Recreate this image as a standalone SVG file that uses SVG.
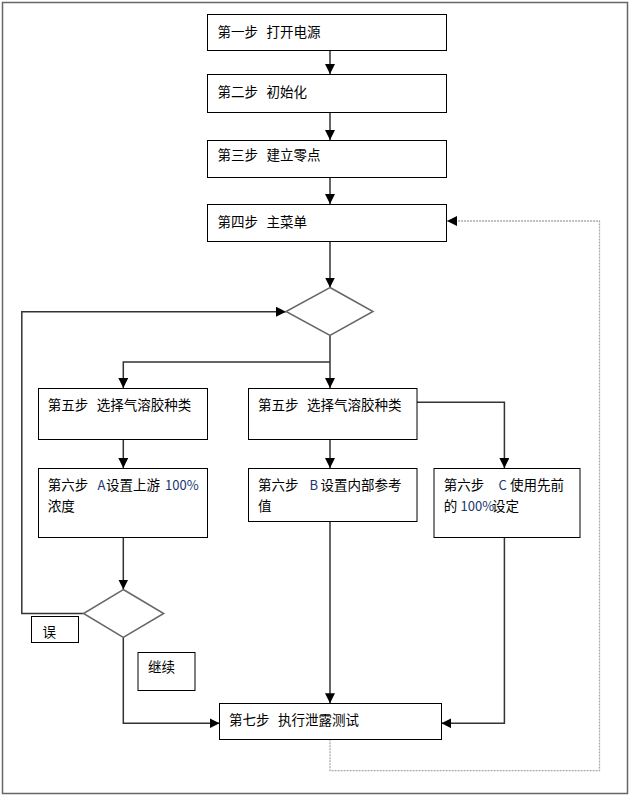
<svg xmlns="http://www.w3.org/2000/svg" width="631" height="797" viewBox="0 0 631 797">
<style>
  .box{fill:#fff;stroke:#000;stroke-width:1}
  .dia{fill:#fff;stroke:#666;stroke-width:1.5}
  .t{font-family:"Noto Sans CJK SC","Noto Sans",sans-serif;font-size:13.5px;fill:#000}
  .l{fill:#1a3570;font-size:13px}
  .c{fill:none;stroke:#333;stroke-width:1.5}
  .d{fill:none;stroke:#aaa;stroke-width:1.3;stroke-dasharray:2 1}
</style>
<defs>
  <marker id="ah" markerUnits="userSpaceOnUse" markerWidth="10" markerHeight="10" refX="10" refY="5" orient="auto" viewBox="0 0 10 10">
    <path d="M0,0 L10,5 L0,10 z" fill="#000"/>
  </marker>
</defs>
<rect x="2.5" y="2.5" width="625" height="791" fill="#fff" stroke="#666" stroke-width="1.5"/>

<g id="connectors">
  <path class="c" d="M330 51 V74" marker-end="url(#ah)"/>
  <path class="c" d="M330 113 V140" marker-end="url(#ah)"/>
  <path class="c" d="M330 178 V204" marker-end="url(#ah)"/>
  <path class="c" d="M330 242 V287.5" marker-end="url(#ah)"/>
  <path class="c" d="M330 335.5 V388" marker-end="url(#ah)"/>
  <path class="c" d="M330 362 H123.3 V388" marker-end="url(#ah)"/>
  <path class="c" d="M417 402.3 H504.4 V468" marker-end="url(#ah)"/>
  <path class="c" d="M123.3 439.3 V468" marker-end="url(#ah)"/>
  <path class="c" d="M330 439 V468" marker-end="url(#ah)"/>
  <path class="c" d="M123.3 537.3 V589.5" marker-end="url(#ah)"/>
  <path class="c" d="M123.3 637.5 V723.3 H219.5" marker-end="url(#ah)"/>
  <path class="c" d="M83.5 613.5 H21.8 V311.7 H286" marker-end="url(#ah)"/>
  <path class="c" d="M330 521.3 V703.3" marker-end="url(#ah)"/>
  <path class="c" d="M504.4 537.3 V723.3 H441.4" marker-end="url(#ah)"/>
  <path class="d" d="M330 739.3 V770.7 H599.5 V221 H447" marker-end="url(#ah)"/>
</g>

<g id="step1">
  <rect class="box" x="207.5" y="14.5" width="239" height="36"/>
  <text class="t" x="217.5" y="37">第一步<tspan x="266.5">打开电源</tspan></text>
</g>
<g id="step2">
  <rect class="box" x="207.5" y="74.5" width="239" height="38"/>
  <text class="t" x="217.5" y="96.5">第二步<tspan x="266.5">初始化</tspan></text>
</g>
<g id="step3">
  <rect class="box" x="207.5" y="140.5" width="239" height="37"/>
  <text class="t" x="217.5" y="160">第三步<tspan x="266.5">建立零点</tspan></text>
</g>
<g id="step4">
  <rect class="box" x="207.5" y="204.5" width="239" height="37"/>
  <text class="t" x="217.5" y="226.5">第四步<tspan x="266.5">主菜单</tspan></text>
</g>
<g id="decision1">
  <polygon class="dia" points="330,287.5 373,311.5 330,335.5 286,311.5"/>
</g>
<g id="step5a">
  <rect class="box" x="38.5" y="388.5" width="169" height="51"/>
  <text class="t" x="47.7" y="410">第五步<tspan x="96.7">选择气溶胶种类</tspan></text>
</g>
<g id="step5b">
  <rect class="box" x="248.5" y="388.5" width="168.5" height="51"/>
  <text class="t" x="257.9" y="410">第五步<tspan x="306.9">选择气溶胶种类</tspan></text>
</g>
<g id="step6a">
  <rect class="box" x="38.5" y="468.5" width="169" height="69"/>
  <text class="t" x="47.7" y="490">第六步<tspan class="l" x="97.5">A</tspan><tspan x="106">设置上游</tspan><tspan class="l" x="165">100%</tspan></text>
  <text class="t" x="47.7" y="511">浓度</text>
</g>
<g id="step6b">
  <rect class="box" x="248.5" y="468.5" width="168.5" height="53"/>
  <text class="t" x="257.9" y="490">第六步<tspan class="l" x="309.5">B</tspan><tspan x="320.5">设置内部参考</tspan></text>
  <text class="t" x="257.9" y="511">值</text>
</g>
<g id="step6c">
  <rect class="box" x="434" y="468.5" width="146" height="69"/>
  <text class="t" x="443.8" y="490">第六步<tspan class="l" x="498.5">C</tspan><tspan x="510">使用先前</tspan></text>
  <text class="t" x="443.8" y="511">的<tspan class="l" x="460.5">100%</tspan><tspan x="492">设定</tspan></text>
</g>
<g id="decision2">
  <polygon class="dia" points="123.3,589.5 163.7,613.5 123.3,637.5 83.5,613.5"/>
</g>
<g id="label-wu">
  <rect class="box" x="31.5" y="616.5" width="47" height="26"/>
  <text class="t" x="42.4" y="636.5">误</text>
</g>
<g id="label-jixu">
  <rect class="box" x="138" y="652.5" width="57" height="38"/>
  <text class="t" x="148" y="671.5">继续</text>
</g>
<g id="step7">
  <rect class="box" x="219.5" y="703.5" width="222" height="36"/>
  <text class="t" x="229" y="724.5">第七步<tspan x="278">执行泄露测试</tspan></text>
</g>
</svg>
